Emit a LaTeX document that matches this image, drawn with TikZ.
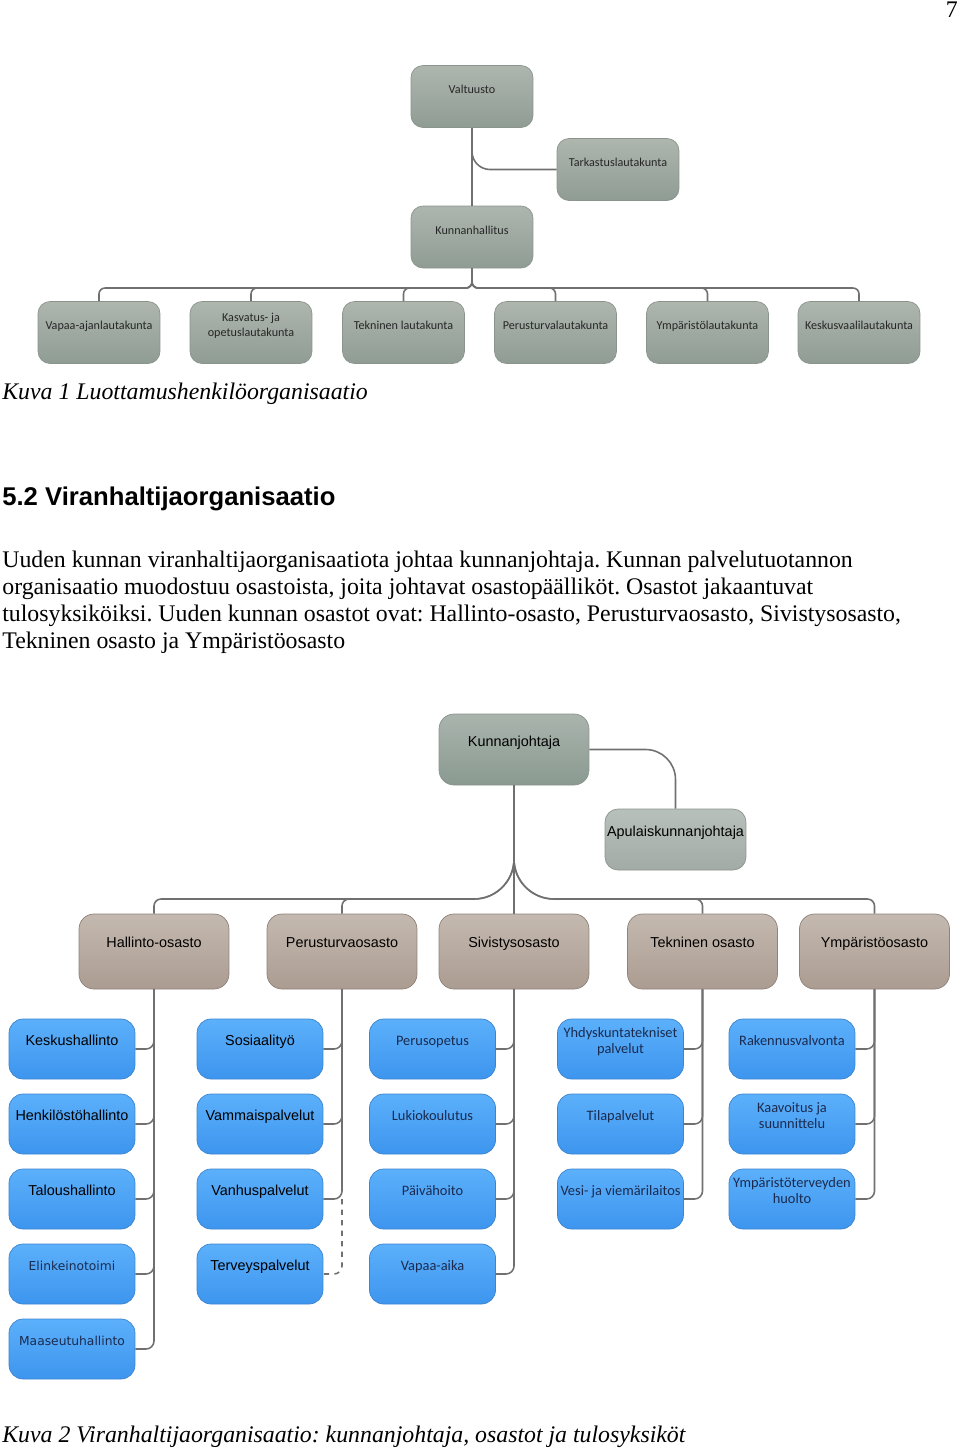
\documentclass[tikz,border=0pt]{standalone}
\usepackage{fontspec}
\setmainfont{Liberation Serif}
\newfontfamily\arifont{Liberation Sans}
\newfontfamily\calfont{Carlito}
\newfontfamily\dejfont{DejaVu Sans}
\usetikzlibrary{positioning,calc}
\definecolor{linegray}{HTML}{707070}
\definecolor{gtop}{HTML}{AEB6AE}
\definecolor{gbot}{HTML}{8F9C94}
\definecolor{gline}{HTML}{8A948C}
\definecolor{ktop}{HTML}{A9B4AD}
\definecolor{kbot}{HTML}{8A9A91}
\definecolor{atop}{HTML}{B7C0BB}
\definecolor{abot}{HTML}{A2ABA6}
\definecolor{dtop}{HTML}{C4B9B0}
\definecolor{dbot}{HTML}{AB9C91}
\definecolor{dline}{HTML}{8E827A}
\definecolor{btop}{HTML}{5CB0FB}
\definecolor{bbot}{HTML}{3D95EE}
\definecolor{bline}{HTML}{3B84D0}
\definecolor{navy}{HTML}{1B2B4F}
\tikzset{
  conn/.style={draw=linegray, line width=0.9pt, rounded corners=0.16cm},
  gbox/.style={rectangle, rounded corners=0.24cm, draw=gline, top color=gtop, bottom color=gbot,
    minimum width=2.44cm, minimum height=1.24cm, inner xsep=1pt, inner ysep=0pt,
    text height=0.56cm, text depth=0.68cm, align=center,
    font=\calfont\fontsize{6.9}{8.4}\selectfont, text=black!85},
  gtwo/.style={text height=0.7cm, text depth=0.54cm},
  kbox/.style={rectangle, rounded corners=0.3cm, draw=gline, top color=ktop, bottom color=kbot,
    minimum width=3cm, minimum height=1.42cm, inner xsep=1pt, inner ysep=0pt,
    text height=0.64cm, text depth=0.78cm, font=\arifont\fontsize{8.2}{10}\selectfont},
  abox/.style={kbox, top color=atop, bottom color=abot, minimum width=2.82cm, minimum height=1.22cm,
    rounded corners=0.26cm, text height=0.54cm, text depth=0.68cm},
  dbox/.style={rectangle, rounded corners=0.3cm, draw=dline, top color=dtop, bottom color=dbot,
    minimum width=3cm, minimum height=1.5cm, inner xsep=1pt, inner ysep=0pt,
    text height=0.66cm, text depth=0.84cm, font=\arifont\fontsize{8.2}{10}\selectfont},
  bbox/.style={rectangle, rounded corners=0.28cm, draw=bline, top color=btop, bottom color=bbot,
    minimum width=2.52cm, minimum height=1.2cm, inner xsep=1pt, inner ysep=0pt,
    text height=0.52cm, text depth=0.68cm, align=center,
    font=\arifont\fontsize{8.2}{10}\selectfont},
  cal/.style={font=\calfont\fontsize{8.2}{8.6}\selectfont, text=navy},
  dej/.style={font=\dejfont\fontsize{7}{9}\selectfont, text=navy},
  btwo/.style={text height=0.68cm, text depth=0.52cm},
  bodytxt/.style={anchor=west, inner sep=0pt, font=\frenchspacing\fontsize{13.55}{16}\selectfont},
  captxt/.style={bodytxt, font=\frenchspacing\itshape\fontsize{13.55}{16}\selectfont}
}
\begin{document}
\begin{tikzpicture}[x=0.02cm, y=-0.02cm]
  \useasboundingbox (0,0) rectangle (960,1451);
  \node[bodytxt, anchor=east] (pnum) at (958,10) {7};

  % luottamushenkiloorganisaatio
  \node[gbox] (valt) at (472,96.5) {Valtuusto};
  \node[gbox] (tark) at (618,169.5) {Tarkastuslautakunta};
  \node[gbox] (khal) at (472,237) {Kunnanhallitus};
  \node[gbox] (vapaa) at (99,332.5) {Vapaa-ajanlautakunta};
  \node[gbox, gtwo] (kasv) at (251,332.5) {Kasvatus- ja\\opetuslautakunta};
  \node[gbox] (tekl) at (403.5,332.5) {Tekninen lautakunta};
  \node[gbox] (perl) at (555.5,332.5) {Perusturvalautakunta};
  \node[gbox] (ympl) at (707.5,332.5) {Ympäristölautakunta};
  \node[gbox] (kesk) at (859,332.5) {Keskusvaalilautakunta};
  \coordinate (busA) at (0,288);

  \draw[conn] (valt.south) -- (khal.north);
  \draw[conn, rounded corners=0.36cm] (valt.south) |- (tark.west);
  \foreach \c in {vapaa,kasv,tekl,perl,ympl,kesk}
    \draw[conn, rounded corners=0.12cm] (khal.south) -- (khal.south |- busA) -- (\c.north |- busA) -- (\c.north);

  \node[captxt] (cap1) at (2,394) {Kuva 1 Luottamushenkilöorganisaatio};
  \node[bodytxt, font=\arifont\bfseries\fontsize{14.6}{17}\selectfont] (head) at (2,499) {5.2 Viranhaltijaorganisaatio};
  \node[bodytxt] (par1) at (2,562) {Uuden kunnan viranhaltijaorganisaatiota johtaa kunnanjohtaja. Kunnan palvelutuotannon};
  \node[bodytxt] (par2) at (2,589) {organisaatio muodostuu osastoista, joita johtavat osastopäälliköt. Osastot jakaantuvat};
  \node[bodytxt] (par3) at (2,616) {tulosyksiköiksi. Uuden kunnan osastot ovat: Hallinto-osasto, Perusturvaosasto, Sivistysosasto,};
  \node[bodytxt] (par4) at (2,643) {Tekninen osasto ja Ympäristöosasto};

  % viranhaltijaorganisaatio
  \node[kbox] (kj) at (514,749.5) {Kunnanjohtaja};
  \node[abox] (apu) at (675.5,839.5) {Apulaiskunnanjohtaja};
  \node[dbox] (hall) at (154,951.5) {Hallinto-osasto};
  \node[dbox] (pers) at (342,951.5) {Perusturvaosasto};
  \node[dbox] (sivi) at (514,951.5) {Sivistysosasto};
  \node[dbox] (tekn) at (702.5,951.5) {Tekninen osasto};
  \node[dbox] (ympa) at (874.5,951.5) {Ympäristöosasto};
  \coordinate (busB) at (0,899);

  \draw[conn, rounded corners=0.6cm] (kj.east) -| (apu.north);
  \draw[conn] (kj.south) -- (sivi.north);
  \foreach \d in {hall,pers,tekn,ympa}
    \draw[conn] (kj.south) [rounded corners=0.8cm] -- (kj.south |- busB) [rounded corners=0.14cm] -- (\d.north |- busB) -- (\d.north);

  % tulosyksikot
  \node[bbox] (kesh) at (72,1049) {Keskushallinto};
  \node[bbox] (henk) at (72,1124) {Henkilöstöhallinto};
  \node[bbox] (talo) at (72,1199) {Taloushallinto};
  \node[bbox, dej] (elin) at (72,1274) {Elinkeinotoimi};
  \node[bbox, dej] (maas) at (72,1349) {Maaseutuhallinto};
  \node[bbox] (sosi) at (260,1049) {Sosiaalityö};
  \node[bbox] (vamm) at (260,1124) {Vammaispalvelut};
  \node[bbox] (vanh) at (260,1199) {Vanhuspalvelut};
  \node[bbox] (terv) at (260,1274) {Terveyspalvelut};
  \node[bbox, cal] (peru) at (432.5,1049) {Perusopetus};
  \node[bbox, cal] (luki) at (432.5,1124) {Lukiokoulutus};
  \node[bbox, cal] (paiv) at (432.5,1199) {Päivähoito};
  \node[bbox, cal] (vapa) at (432.5,1274) {Vapaa-aika};
  \node[bbox, cal, btwo] (yhdy) at (620.5,1049) {Yhdyskuntatekniset\\palvelut};
  \node[bbox, cal] (tila) at (620.5,1124) {Tilapalvelut};
  \node[bbox, cal] (vesi) at (620.5,1199) {Vesi- ja viemärilaitos};
  \node[bbox, cal] (rake) at (792,1049) {Rakennusvalvonta};
  \node[bbox, cal, btwo] (kaav) at (792,1124) {Kaavoitus ja\\suunnittelu};
  \node[bbox, cal, btwo] (ympt) at (792,1199) {Ympäristöterveyden\\huolto};

  \foreach \u in {kesh,henk,talo,elin,maas}
    \draw[conn] (hall.south) |- (\u.east);
  \foreach \u in {sosi,vamm,vanh}
    \draw[conn] (pers.south) |- (\u.east);
  \draw[conn, dashed] (pers.south |- vanh.east) |- (terv.east);
  \foreach \u in {peru,luki,paiv,vapa}
    \draw[conn] (sivi.south) |- (\u.east);
  \foreach \u in {yhdy,tila,vesi}
    \draw[conn] (tekn.south) |- (\u.east);
  \foreach \u in {rake,kaav,ympt}
    \draw[conn] (ympa.south) |- (\u.east);

  \node[captxt] (cap2) at (2,1437) {Kuva 2 Viranhaltijaorganisaatio: kunnanjohtaja, osastot ja tulosyksiköt};
\end{tikzpicture}
\end{document}
